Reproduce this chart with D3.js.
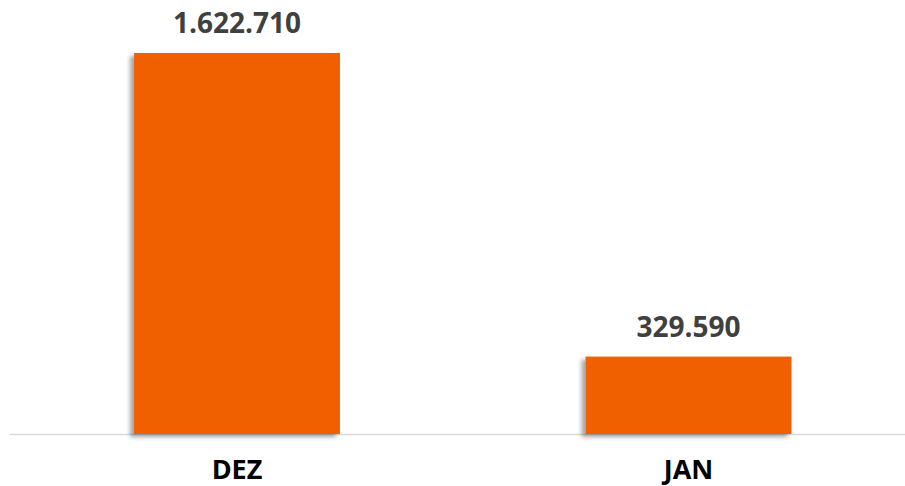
<!DOCTYPE html>
<html>
<head>
<meta charset="utf-8">
<script src="https://cdn.jsdelivr.net/npm/d3@7"></script>
<style>
  body { margin: 0; background: #fff; }
  svg { display: block; }
</style>
</head>
<body>
<svg id="chart" width="905" height="486"></svg>
<script>
const categories = ["DEZ", "JAN"];
const values = [1622710, 329590];
const valueLabels = ["1.622.710", "329.590"];

const barColor = "#f06000";
const svg = d3.select("#chart");

const baseY = 434;

// drop shadow to the lower left like the original
const defs = svg.append("defs");
defs.append("filter")
    .attr("id", "shadow")
    .attr("x", "-10%").attr("y", "-10%")
    .attr("width", "120%").attr("height", "120%")
  .append("feDropShadow")
    .attr("dx", -4).attr("dy", 3)
    .attr("stdDeviation", 2)
    .attr("flood-color", "#000")
    .attr("flood-opacity", 0.35);

const x = d3.scaleBand()
    .domain(categories)
    .range([11.25, 914.25])
    .paddingInner(0.544)
    .paddingOuter(0.272);

const y = d3.scaleLinear()
    .domain([0, 1622710])
    .range([baseY, 53]);

// baseline
svg.append("line")
    .attr("x1", 10).attr("x2", 905)
    .attr("y1", baseY + 0.5).attr("y2", baseY + 0.5)
    .attr("stroke", "#d9d9d9")
    .attr("stroke-width", 1.5);

svg.selectAll("rect.bar")
    .data(values)
    .join("rect")
    .attr("class", "bar")
    .attr("x", (d, i) => x(categories[i]))
    .attr("y", d => y(d))
    .attr("width", x.bandwidth())
    .attr("height", d => baseY - y(d))
    .attr("fill", barColor)
    .attr("filter", "url(#shadow)");

svg.selectAll("text.value")
    .data(values)
    .join("text")
    .attr("class", "value")
    .attr("x", (d, i) => x(categories[i]) + x.bandwidth() / 2)
    .attr("y", d => y(d) - 20)
    .attr("text-anchor", "middle")
    .style("font-family", "'Open Sans', sans-serif")
    .style("font-weight", "bold")
    .style("font-size", "28px")
    .style("fill", "#404040")
    .text((d, i) => valueLabels[i]);

svg.selectAll("text.cat")
    .data(categories)
    .join("text")
    .attr("class", "cat")
    .attr("x", d => x(d) + x.bandwidth() / 2)
    .attr("y", 479)
    .attr("text-anchor", "middle")
    .style("font-family", "'Open Sans', sans-serif")
    .style("font-weight", "bold")
    .style("font-size", "27px")
    .style("fill", "#000")
    .text(d => d);
</script>
</body>
</html>
